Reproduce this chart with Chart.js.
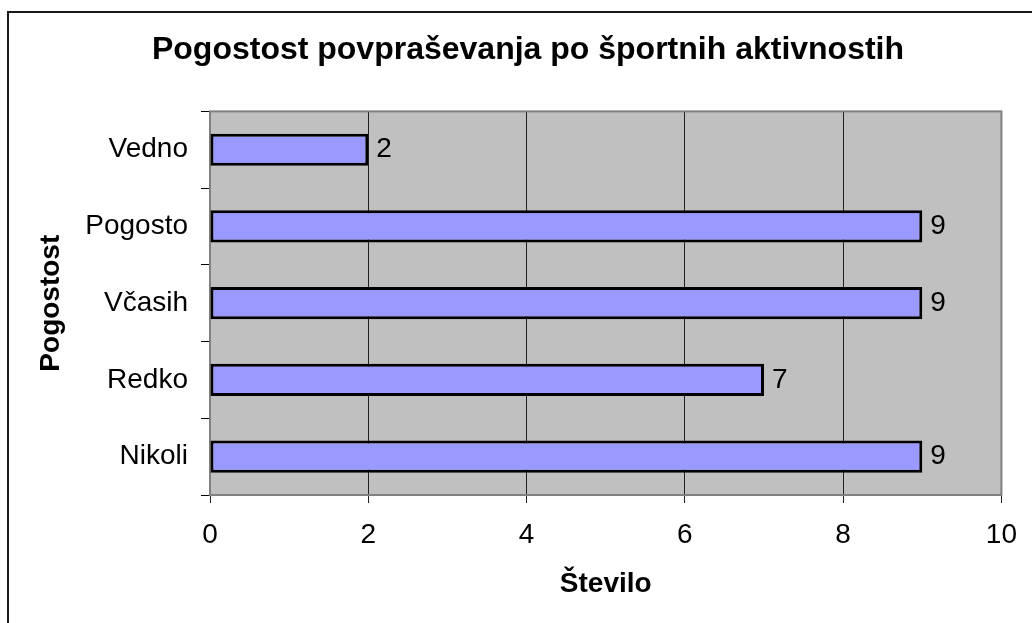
<!DOCTYPE html>
<html>
<head>
<meta charset="utf-8">
<title>Pogostost povpraševanja po športnih aktivnostih</title>
<script src="https://cdn.jsdelivr.net/npm/chart.js@4/dist/chart.umd.min.js"></script>
<style>
  body { margin: 0; background: #fff; }
  #wrap { width: 1032px; height: 623px; }
</style>
</head>
<body>
<div id="wrap"><canvas id="mycanvas" width="1032" height="623"></canvas></div>
<script>
// chart data
var categories = ['Vedno', 'Pogosto', 'Včasih', 'Redko', 'Nikoli'];
var counts = [2, 9, 9, 7, 9];
var xTicks = [0, 2, 4, 6, 8, 10];

var chartTitle = 'Pogostost povpraševanja po športnih aktivnostih';
var xTitle = 'Število';
var yTitle = 'Pogostost';

var FONT = "'Liberation Sans', Arial, sans-serif";

// frame round the picture + grey plot area
var backdrop = {
  id: 'backdrop',
  beforeDraw: function(chart) {
    var ctx = chart.ctx, a = chart.chartArea;
    ctx.save();
    ctx.strokeStyle = '#1a1a1a';
    ctx.lineWidth = 2;
    ctx.beginPath();
    ctx.moveTo(8, 623);
    ctx.lineTo(8, 12);
    ctx.lineTo(1032, 12);
    ctx.stroke();
    ctx.fillStyle = '#c0c0c0';
    ctx.fillRect(a.left, a.top, a.right - a.left, a.bottom - a.top);
    ctx.restore();
  },
  beforeDatasetsDraw: function(chart) {
    var ctx = chart.ctx, a = chart.chartArea;
    ctx.save();
    ctx.strokeStyle = '#808080';
    ctx.lineWidth = 2;
    ctx.strokeRect(a.left, a.top, a.right - a.left, a.bottom - a.top);
    ctx.restore();
  }
};

// value next to each bar
var barValues = {
  id: 'barValues',
  afterDatasetsDraw: function(chart) {
    var ctx = chart.ctx;
    var meta = chart.getDatasetMeta(0);
    ctx.save();
    ctx.font = '28px ' + FONT;
    ctx.fillStyle = '#000';
    ctx.textBaseline = 'middle';
    ctx.textAlign = 'left';
    meta.data.forEach(function(bar, i) {
      ctx.fillText(String(chart.data.datasets[0].data[i]), bar.x + 8, bar.y);
    });
    ctx.restore();
  }
};

var ctx = document.getElementById('mycanvas');

var barGraph = new Chart(ctx, {
  type: 'bar',
  data: {
    labels: categories,
    datasets: [{
      label: 'Število',
      data: counts,
      backgroundColor: '#9999ff',
      borderColor: '#000',
      borderWidth: 3,
      borderSkipped: false,
      barPercentage: 0.42,
      categoryPercentage: 1
    }]
  },
  options: {
    indexAxis: 'y',
    responsive: false,
    animation: false,
    devicePixelRatio: 1,
    layout: { padding: { left: 51, right: 27, top: 0, bottom: 0 } },
    plugins: {
      legend: { display: false },
      tooltip: { enabled: false },
      title: {
        display: true,
        text: chartTitle,
        color: '#000',
        font: { family: FONT, size: 32, weight: 'bold' },
        padding: { top: 31, bottom: 42 }
      }
    },
    scales: {
      x: {
        type: 'linear',
        min: 0,
        max: 10,
        afterBuildTicks: function(scale) {
          scale.ticks = xTicks.map(function(v) { return { value: v }; });
        },
        afterFit: function(scale) { scale.height = 128; },
        grid: { color: '#202020', lineWidth: 1, tickLength: 8 },
        border: { color: '#000', width: 2 },
        ticks: {
          color: '#000',
          padding: 15,
          font: { family: FONT, size: 28 },
          maxRotation: 0
        },
        title: {
          display: true,
          text: xTitle,
          color: '#000',
          font: { family: FONT, size: 28, weight: 'bold' },
          padding: { top: 0, bottom: 22 }
        }
      },
      y: {
        afterFit: function(scale) { scale.width = 159; },
        grid: { drawOnChartArea: false, color: '#000', tickLength: 9, offset: true },
        border: { display: false },
        ticks: {
          color: '#000',
          padding: 13,
          font: { family: FONT, size: 28 }
        },
        title: {
          display: true,
          text: yTitle,
          color: '#000',
          font: { family: FONT, size: 28, weight: 'bold' },
          padding: { top: -17, bottom: 0 }
        }
      }
    }
  },
  plugins: [backdrop, barValues]
});
</script>
</body>
</html>
